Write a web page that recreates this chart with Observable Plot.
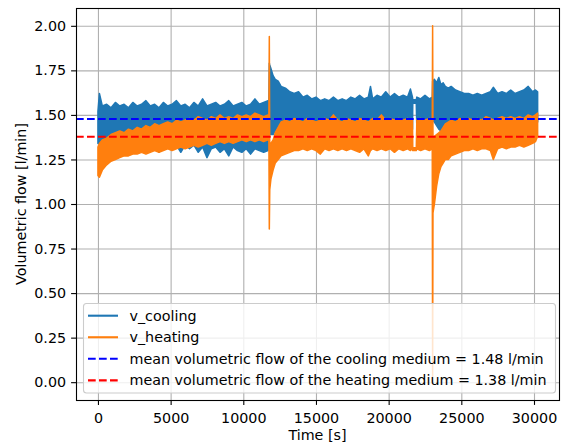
<!DOCTYPE html>
<html><head><meta charset="utf-8">
<script src="https://cdn.jsdelivr.net/npm/d3@7"></script>
<script src="https://cdn.jsdelivr.net/npm/@observablehq/plot@0.6"></script>
<style>
html,body{margin:0;padding:0;background:#fff;}
#chart{width:562px;height:444px;}
</style></head><body><div id="chart"></div>
<script>
// time [s]
const time = [0,100,300,600,900,1200,1500,1800,2100,2400,2700,3000,3300,3600,3900,4200,4500,4800,5100,5400,5700,6000,6300,6600,6900,7200,7500,7800,8100,8400,8700,9000,9300,9600,9900,10200,10500,10800,11100,11400,11700,11760,
11790,11820,11900,12050,12200,12400,12600,12900,13200,13500,13800,14100,14400,14700,15000,15300,15600,15900,16200,16500,16800,17100,17400,17700,18000,18300,18600,18750,18900,19200,19500,19800,20100,20400,20700,21000,21300,21500,21640,
21660,21900,21940,22200,22500,22800,23000,
23025,23050,23150,23300,23450,23600,23750,23900,24100,24300,24600,24900,25200,25500,25800,26100,26400,26700,27000,27200,27500,27800,28100,28400,28700,29000,29300,29600,29900,30100,30250];
// v_cooling: upper / lower envelope of the noisy signal [l/min]
const coolingHigh = [1.52,1.62,1.55,1.56,1.54,1.57,1.55,1.56,1.54,1.57,1.55,1.56,1.58,1.55,1.56,1.54,1.57,1.55,1.56,1.58,1.55,1.56,1.54,1.57,1.55,1.59,1.55,1.56,1.57,1.55,1.56,1.58,1.55,1.56,1.57,1.55,1.56,1.59,1.56,1.57,1.58,1.57,
1.79,1.78,1.76,1.72,1.70,1.69,1.66,1.65,1.63,1.62,1.63,1.60,1.61,1.59,1.60,1.58,1.59,1.58,1.60,1.58,1.59,1.58,1.60,1.59,1.61,1.59,1.60,1.66,1.59,1.61,1.60,1.63,1.60,1.62,1.60,1.61,1.60,1.645,1.60,
1.585,1.585,1.60,1.59,1.61,1.59,1.60,
1.69,1.69,1.70,1.68,1.71,1.67,1.68,1.66,1.65,1.66,1.64,1.63,1.62,1.62,1.61,1.62,1.61,1.62,1.63,1.655,1.62,1.63,1.62,1.64,1.62,1.63,1.64,1.66,1.63,1.64,1.63];
const coolingLow = [1.34,1.34,1.35,1.34,1.35,1.34,1.35,1.34,1.34,1.35,1.34,1.33,1.30,1.32,1.32,1.29,1.33,1.32,1.31,1.33,1.29,1.33,1.31,1.33,1.29,1.32,1.26,1.31,1.32,1.29,1.31,1.27,1.32,1.30,1.29,1.31,1.28,1.31,1.30,1.29,1.30,1.31,
1.38,1.40,1.39,1.39,1.41,1.44,1.46,1.42,1.42,1.42,1.42,1.42,1.42,1.42,1.42,1.42,1.42,1.42,1.42,1.42,1.42,1.42,1.42,1.42,1.42,1.42,1.42,1.42,1.42,1.42,1.42,1.42,1.42,1.42,1.42,1.42,1.42,1.42,1.42,
1.565,1.565,1.42,1.42,1.42,1.42,1.45,
1.47,1.47,1.46,1.44,1.42,1.41,1.42,1.45,1.46,1.46,1.46,1.46,1.46,1.46,1.46,1.46,1.46,1.46,1.46,1.46,1.46,1.46,1.46,1.46,1.46,1.46,1.46,1.46,1.46,1.46,1.46];
// v_heating: upper / lower envelope [l/min]
const heatingHigh = [1.32,1.34,1.36,1.37,1.39,1.40,1.41,1.40,1.42,1.41,1.43,1.42,1.44,1.43,1.45,1.44,1.45,1.46,1.45,1.47,1.46,1.47,1.48,1.47,1.49,1.48,1.47,1.49,1.48,1.50,1.48,1.49,1.48,1.50,1.49,1.50,1.49,1.51,1.50,1.49,1.50,1.50,
1.94,1.33,1.34,1.36,1.40,1.43,1.46,1.47,1.46,1.48,1.47,1.46,1.48,1.47,1.46,1.47,1.48,1.47,1.50,1.47,1.46,1.48,1.47,1.46,1.48,1.47,1.46,1.47,1.48,1.47,1.50,1.47,1.48,1.47,1.48,1.47,1.48,1.47,1.47,
1.315,1.315,1.47,1.48,1.47,1.48,1.47,
2.00,1.37,1.38,1.39,1.40,1.41,1.43,1.45,1.46,1.47,1.46,1.48,1.47,1.48,1.47,1.48,1.47,1.49,1.48,1.47,1.48,1.49,1.48,1.49,1.48,1.49,1.48,1.50,1.49,1.50,1.51];
const heatingLow = [1.16,1.15,1.19,1.22,1.24,1.25,1.26,1.27,1.27,1.28,1.28,1.29,1.28,1.29,1.30,1.29,1.30,1.31,1.30,1.31,1.32,1.31,1.32,1.33,1.32,1.33,1.34,1.33,1.34,1.35,1.34,1.35,1.34,1.35,1.36,1.35,1.36,1.35,1.36,1.35,1.36,1.36,
0.86,1.08,1.14,1.19,1.23,1.25,1.27,1.28,1.29,1.30,1.30,1.31,1.30,1.31,1.30,1.28,1.31,1.30,1.31,1.30,1.31,1.30,1.31,1.30,1.29,1.31,1.27,1.30,1.31,1.30,1.31,1.30,1.31,1.29,1.31,1.30,1.31,1.30,1.31,
1.30,1.30,1.31,1.30,1.31,1.30,1.31,
0.00,0.95,1.00,1.10,1.17,1.21,1.23,1.25,1.25,1.27,1.28,1.29,1.30,1.30,1.31,1.30,1.31,1.31,1.30,1.25,1.31,1.32,1.31,1.32,1.32,1.33,1.32,1.33,1.34,1.35,1.38];

const meanCooling = 1.48;
const meanHeating = 1.38;
const seriesNames = ["v_cooling", "v_heating"];
const meanLabels = [
  "mean volumetric flow of the cooling medium = 1.48 l/min",
  "mean volumetric flow of the heating medium = 1.38 l/min"
];
const xTicks = [0,5000,10000,15000,20000,25000,30000];
const yTicks = [0,0.25,0.5,0.75,1.0,1.25,1.5,1.75,2.0];
const xLabel = "Time [s]";
const yLabel = "Volumetric flow [l/min]";

const rows = time.map((t, i) => ({t, cHi: coolingHigh[i], cLo: coolingLow[i], hHi: heatingHigh[i], hLo: heatingLow[i]}));

const W = 562, H = 444, mL = 76, mR = 3, mT = 8, mB = 44;
const FS = 14.3;
const C_BLUE = "#1f77b4", C_ORANGE = "#ff7f0e";

const svgEl = Plot.plot({
  width: W, height: H,
  marginLeft: mL, marginRight: mR, marginTop: mT, marginBottom: mB,
  style: {fontFamily: "'DejaVu Sans', sans-serif", fontSize: FS + "px", color: "#000", background: "#fff", overflow: "visible"},
  x: {domain: [-1510, 31720]},
  y: {domain: [-0.1, 2.1]},
  marks: [
    Plot.gridX(xTicks, {stroke: "#b0b0b0", strokeOpacity: 1, strokeWidth: 1.1}),
    Plot.gridY(yTicks, {stroke: "#b0b0b0", strokeOpacity: 1, strokeWidth: 1.1}),
    Plot.areaY(rows, {x: "t", y1: "cLo", y2: "cHi", fill: C_BLUE, stroke: C_BLUE, strokeWidth: 1.5}),
    Plot.areaY(rows, {x: "t", y1: "hLo", y2: "hHi", fill: C_ORANGE, stroke: C_ORANGE, strokeWidth: 1.5}),
    Plot.ruleY([meanCooling], {stroke: "#0000ff", strokeWidth: 2.1, strokeDasharray: "7.7,3.3"}),
    Plot.ruleY([meanHeating], {stroke: "#ff0000", strokeWidth: 2.1, strokeDasharray: "7.7,3.3"}),
    Plot.axisX(xTicks, {tickSize: 4.9, tickPadding: 7, tickFormat: d => String(d), label: null, fontSize: FS, strokeWidth: 1.1}),
    Plot.axisY(yTicks, {tickSize: 4.9, tickPadding: 5.5, tickFormat: d3.format(".2f"), label: null, fontSize: FS, strokeWidth: 1.1}),
    Plot.frame({stroke: "#000", strokeWidth: 1.1})
  ]
});
document.getElementById("chart").appendChild(svgEl);

const svg = d3.select(svgEl);
// axis titles
svg.append("text").attr("x", (mL + W - mR) / 2).attr("y", 440).attr("text-anchor", "middle")
  .attr("font-size", FS).attr("fill", "#000").text(xLabel);
svg.append("text").attr("transform", `translate(26,${(mT + H - mB) / 2}) rotate(-90)`).attr("text-anchor", "middle")
  .attr("font-size", FS).attr("fill", "#000").text(yLabel);

// legend (lower left, semi-transparent box)
const lg = svg.append("g").attr("text-anchor", "start");
lg.append("rect").attr("x", 83.5).attr("y", 303.5).attr("width", 472).attr("height", 89.5).attr("rx", 3)
  .attr("fill", "#fff").attr("fill-opacity", 0.8).attr("stroke", "#cccccc").attr("stroke-width", 1.1);
const items = [
  {label: seriesNames[0], color: C_BLUE, dash: null},
  {label: seriesNames[1], color: C_ORANGE, dash: null},
  {label: meanLabels[0], color: "#0000ff", dash: "7.7,3.3"},
  {label: meanLabels[1], color: "#ff0000", dash: "7.7,3.3"}
];
items.forEach((it, i) => {
  const cy = 315.7 + i * 21.55;
  const ln = lg.append("line").attr("x1", 88).attr("x2", 118).attr("y1", cy).attr("y2", cy)
    .attr("stroke", it.color).attr("stroke-width", 2.1);
  if (it.dash) ln.attr("stroke-dasharray", it.dash);
  lg.append("text").attr("x", 129.5).attr("y", cy + 5).attr("text-anchor", "start")
    .attr("font-size", FS).attr("fill", "#000").text(it.label);
});
</script>
</body></html>
